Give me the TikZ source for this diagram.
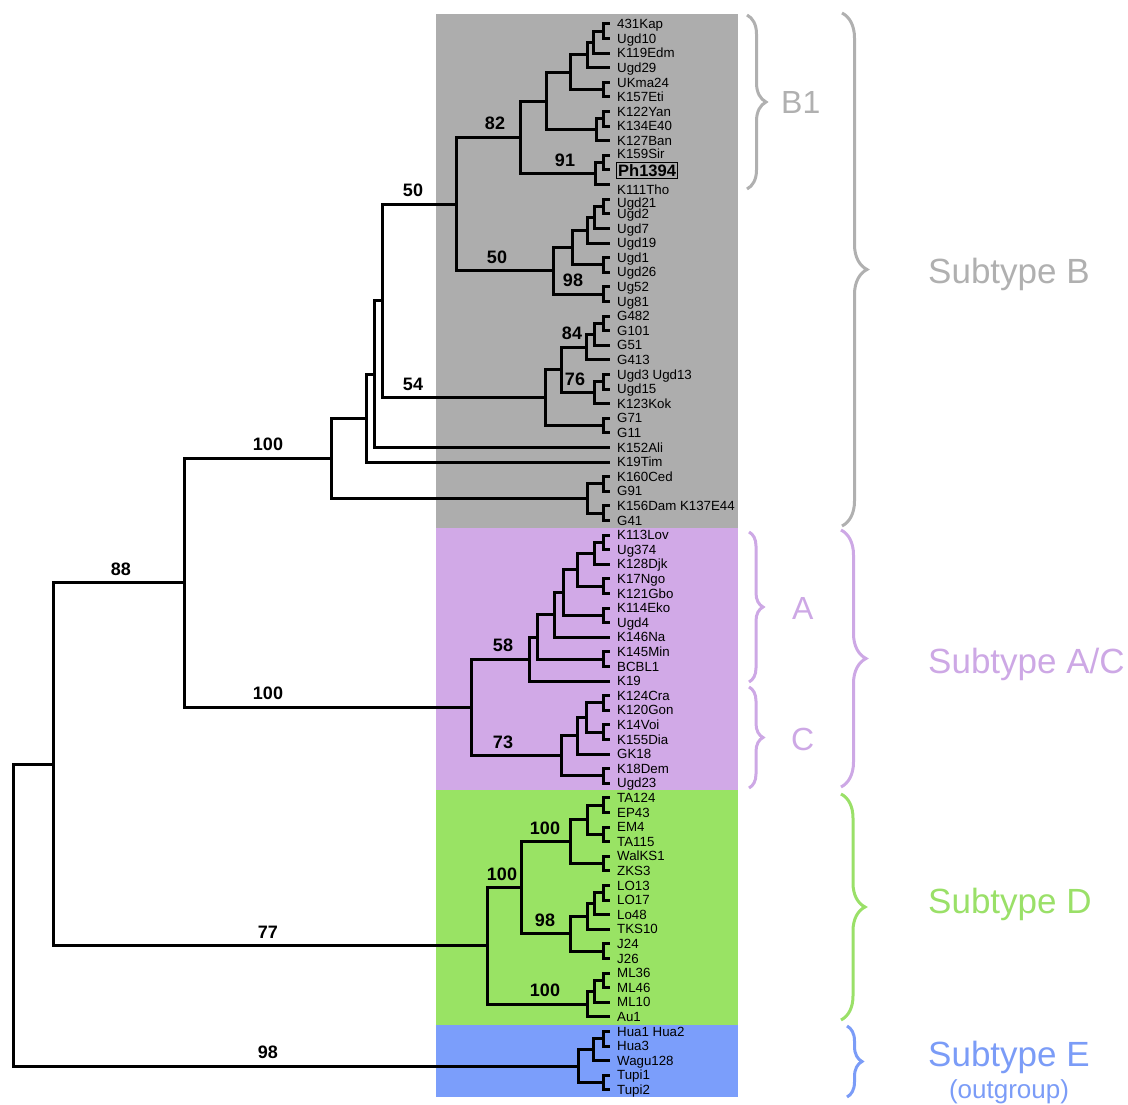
\documentclass[tikz,border=0pt]{standalone}
\usepackage{fontspec}
\setmainfont{Liberation Sans}
\usetikzlibrary{decorations.pathreplacing}
\definecolor{pgray}{HTML}{ADADAD}
\definecolor{ppurple}{HTML}{D1A9E7}
\definecolor{pgreen}{HTML}{99E364}
\definecolor{pblue}{HTML}{7B9EFB}
\definecolor{bgray}{HTML}{B0B0B0}
\definecolor{bpurple}{HTML}{CDA8E5}
\definecolor{bgreen}{HTML}{9AE068}
\definecolor{bblue}{HTML}{7B9CF7}
\tikzset{
  tree/.style={line width=3pt, black},
  leaf/.style={anchor=base west, inner sep=0pt, font=\fontsize{13.3}{14}\selectfont},
  boot/.style={anchor=base, inner sep=0pt, font=\fontsize{18}{18}\selectfont\bfseries},
  bracebig/.style={line width=3pt, decorate, decoration={brace, amplitude=#1}},
  grouplabel/.style={anchor=base west, inner sep=0pt, font=\fontsize{35}{35}\selectfont},
}
\begin{document}
\begin{tikzpicture}[x=1pt,y=-1pt]
\useasboundingbox (0,0) rectangle (1128,1105);
% panels
\fill[pgray]   (436,14)   rectangle (738,528);
\fill[ppurple] (436,528)  rectangle (738,790);
\fill[pgreen]  (436,790)  rectangle (738,1025);
\fill[pblue]   (436,1025) rectangle (738,1097);

% leaf tips
\foreach \i in {0,...,73} { \coordinate (t\i) at (610, {24+14.6*\i}); }
% cherries
\foreach \a in {0,4,6,9,12,16,18,20,24,27,31,33,35,38,40,43,46,48,51,53,55,57,59,63,65,69,72} {
  \pgfmathtruncatemacro\bb{\a+1}
  \coordinate (c\a) at (603, {24+14.6*(\a+0.5)});
  \draw[tree] (c\a) |- (t\a);
  \draw[tree] (c\a) |- (t\bb);
}
% internal nodes
\coordinate (b1a) at (593, 42.25);
\coordinate (b1b) at (587, 55);
\coordinate (b1c) at (570, 72.35);
\coordinate (b1d) at (596, 129.85);
\coordinate (b1e) at (546, 101.1);
\coordinate (b1f) at (595, 173.65);
\coordinate (b82) at (520, 137.4);
\coordinate (u1) at (594, 217.45);
\coordinate (u2) at (587, 230.2);
\coordinate (u3) at (572, 247.6);
\coordinate (u4) at (553, 270.85);
\coordinate (b50) at (456, 204.1);
\coordinate (g1) at (594, 334.25);
\coordinate (g84) at (586, 347);
\coordinate (g76) at (594, 392.65);
\coordinate (g2) at (561, 369.8);
\coordinate (b54) at (545, 397.65);
\coordinate (b3) at (382, 300.9);
\coordinate (b4) at (374, 374.15);
\coordinate (b5) at (366, 418.1);
\coordinate (b6) at (587, 498.5);
\coordinate (nB) at (331, 458.3);
\coordinate (a1) at (594, 553.25);
\coordinate (a2) at (577, 569.7);
\coordinate (a3) at (563, 592.5);
\coordinate (a4) at (554, 614.85);
\coordinate (a5) at (537, 637);
\coordinate (a58) at (529, 659);
\coordinate (k1) at (586, 717.5);
\coordinate (k2) at (577, 735.75);
\coordinate (k73) at (561, 755.8);
\coordinate (nAC) at (471, 707.4);
\coordinate (nBAC) at (184, 582.85);
\coordinate (d1) at (587, 819.7);
\coordinate (d2) at (570, 841.6);
\coordinate (d3) at (594, 903.65);
\coordinate (d4) at (587, 916.4);
\coordinate (d5) at (570, 933.75);
\coordinate (d6) at (521, 887.7);
\coordinate (d7) at (594, 991.25);
\coordinate (d8) at (587, 1004);
\coordinate (nD) at (487, 945.85);
\coordinate (n53) at (53, 764.35);
\coordinate (e1) at (593, 1049.65);
\coordinate (nE) at (578, 1066.1);
\coordinate (root) at (13, 915.2);

\foreach \p/\c in {b1a/c0, b1a/t2, b1b/b1a, b1b/t3, b1c/b1b, b1c/c4, b1d/c6, b1d/t8,
  b1e/b1c, b1e/b1d, b1f/c9, b1f/t11, b82/b1e, b82/b1f,
  u1/c12, u1/t14, u2/u1, u2/t15, u3/u2, u3/c16, u4/u3, u4/c18, b50/b82, b50/u4,
  g1/c20, g1/t22, g84/g1, g84/t23, g76/c24, g76/t26, g2/g84, g2/g76, b54/g2, b54/c27,
  b3/b50, b3/b54, b4/b3, b4/t29, b5/b4, b5/t30, b6/c31, b6/c33, nB/b5, nB/b6,
  a1/c35, a1/t37, a2/a1, a2/c38, a3/a2, a3/c40, a4/a3, a4/t42, a5/a4, a5/c43, a58/a5, a58/t45,
  k1/c46, k1/c48, k2/k1, k2/t50, k73/k2, k73/c51, nAC/a58, nAC/k73, nBAC/nB, nBAC/nAC,
  d1/c53, d1/c55, d2/d1, d2/c57, d3/c59, d3/t61, d4/d3, d4/t62, d5/d4, d5/c63, d6/d2, d6/d5,
  d7/c65, d7/t67, d8/d7, d8/t68, nD/d6, nD/d8, n53/nBAC, n53/nD,
  e1/c69, e1/t71, nE/e1, nE/c72, root/n53, root/nE}
  { \draw[tree] (\p) |- (\c); }

% bootstrap values
\foreach \x/\y/\v [count=\k] in {121/582.85/88, 268/458.3/100, 268/707.4/100, 268/945.85/77, 268/1066.1/98,
  413/204.1/50, 413/397.65/54, 495/137.4/82, 497/270.85/50, 565/173.65/91, 573/294.1/98,
  572/347/84, 575/392.65/76, 503/659/58, 503/755.8/73, 502/887.7/100, 545/841.6/100,
  545/933.75/98, 545/1004/100}
  { \node[boot] (bs\k) at (\x, \y-7.5) {\v}; }

% leaf labels
\foreach \n [count=\i from 0] in {431Kap, Ugd10, K119Edm, Ugd29, UKma24, K157Eti, K122Yan, K134E40, K127Ban}
  { \node[leaf] (L\i) at (617, {24+14.6*\i+4.75}) {\n}; }
\node[leaf] (L9) at (617, 158.5) {K159Sir};
\node[draw, line width=1.2pt, anchor=west, inner sep=1.6pt, font=\fontsize{16.5}{17}\selectfont\bfseries] (L10) at (616, 170.5) {Ph1394};
\node[leaf] (L11) at (617, 194) {K111Tho};
\node[leaf] (L12) at (617, 207.5) {Ugd21};
\foreach \n [count=\i from 13] in {Ugd2, Ugd7, Ugd19, Ugd1, Ugd26, Ug52, Ug81, G482, G101, G51, G413,
  Ugd3 Ugd13, Ugd15, K123Kok, G71, G11, K152Ali, K19Tim, K160Ced, G91, K156Dam K137E44, G41,
  K113Lov, Ug374, K128Djk, K17Ngo, K121Gbo, K114Eko, Ugd4, K146Na, K145Min, BCBL1, K19,
  K124Cra, K120Gon, K14Voi, K155Dia, GK18, K18Dem, Ugd23,
  TA124, EP43, EM4, TA115, WalKS1, ZKS3, LO13, LO17, Lo48, TKS10, J24, J26, ML36, ML46, ML10, Au1,
  Hua1 Hua2, Hua3, Wagu128, Tupi1, Tupi2}
  { \node[leaf] (L\i) at (617, {24+14.6*\i+4.75}) {\n}; }

% braces
\draw[bracebig=19, bgray]   (747,15)   -- (747,189);
\draw[bracebig=25, bgray]   (842,13)   -- (842,526);
\draw[bracebig=14, bpurple] (749,532)  -- (749,682);
\draw[bracebig=14, bpurple] (749,687)  -- (749,788);
\draw[bracebig=25, bpurple] (841,530)  -- (841,787);
\draw[bracebig=24, bgreen]  (841,794)  -- (841,1020);
\draw[bracebig=15, bblue]   (847,1026) -- (847,1097);

% group labels
\node[grouplabel, font=\fontsize{32}{32}\selectfont, text=bgray] (gB1) at (781,113.5) {B1};
\node[grouplabel, text=bgray] (gB) at (928,283.5) {Subtype B};
\node[grouplabel, font=\fontsize{32}{32}\selectfont, text=bpurple] (gA) at (792,619.5) {A};
\node[grouplabel, font=\fontsize{32}{32}\selectfont, text=bpurple] (gC) at (791,750.5) {C};
\node[grouplabel, text=bpurple] (gAC) at (928,673.5) {Subtype A/C};
\node[grouplabel, text=bgreen] (gD) at (928,913.5) {Subtype D};
\node[grouplabel, text=bblue] (gE) at (928,1066.5) {Subtype E};
\node[anchor=base, inner sep=0pt, font=\fontsize{26}{26}\selectfont, text=bblue] (gOut) at (1009,1098) {(outgroup)};
\end{tikzpicture}
\end{document}
